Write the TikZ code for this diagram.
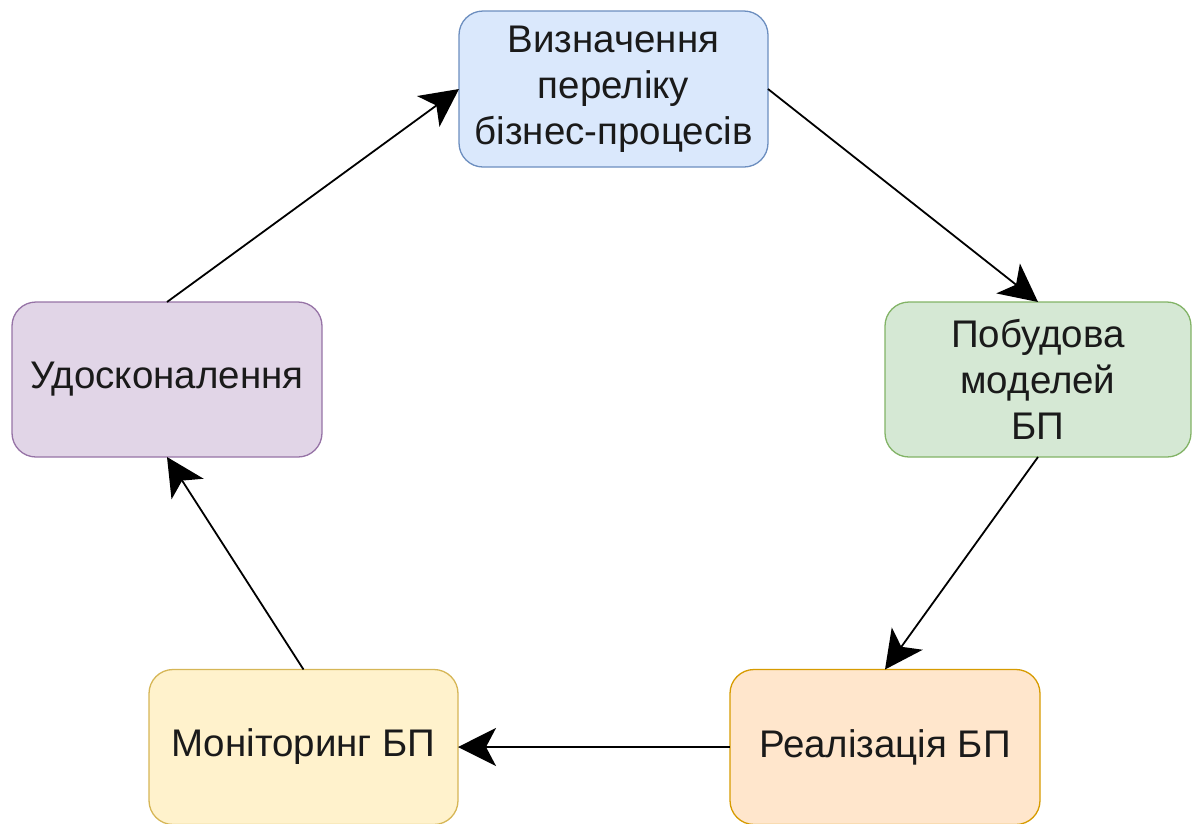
\documentclass[tikz,border=0pt]{standalone}
\usepackage{fontspec}
\setmainfont{Liberation Sans}
\usetikzlibrary{arrows.meta}
\definecolor{bluef}{HTML}{DAE8FC}\definecolor{blued}{HTML}{6C8EBF}
\definecolor{greenf}{HTML}{D5E8D4}\definecolor{greend}{HTML}{82B366}
\definecolor{orangef}{HTML}{FFE6CC}\definecolor{oranged}{HTML}{D79B00}
\definecolor{yellowf}{HTML}{FFF2CC}\definecolor{yellowd}{HTML}{D6B656}
\definecolor{purplef}{HTML}{E1D5E7}\definecolor{purpled}{HTML}{9673A6}
\definecolor{txt}{HTML}{1A1A1A}
\tikzset{
  stepbox/.style={draw, rounded corners=24pt, line width=1.3pt, inner sep=0pt, outer sep=0pt,
    minimum width=309pt, minimum height=155pt, align=center, text=txt,
    font=\fontsize{38.5}{46}\selectfont},
  flow/.style={line width=1.8pt, -{Stealth[length=38pt, width=38pt, inset=10pt]}}
}
\begin{document}
\begin{tikzpicture}[x=1pt, y=-1pt]
\useasboundingbox (0,0) rectangle (1192,823);
\node[stepbox, fill=bluef, draw=blued, minimum height=156pt] (a) at (613.5,89) {Визначення\\переліку\\бізнес-процесів};
\node[stepbox, fill=greenf, draw=greend, minimum width=306pt] (b) at (1038,379.5) {Побудова\\моделей\\БП};
\node[stepbox, fill=orangef, draw=oranged, minimum width=310pt] (c) at (885,747) {Реалізація БП};
\node[stepbox, fill=yellowf, draw=yellowd] (d) at (303.5,747) {Моніторинг БП};
\node[stepbox, fill=purplef, draw=purpled, minimum width=310pt] (e) at (167,379.5) {Удосконалення};
\draw[flow] (a.east) -- (b.north);
\draw[flow] (b.south) -- (c.north);
\draw[flow] (c.west) -- (d.east);
\draw[flow] (d.north) -- (e.south);
\draw[flow] (e.north) -- (a.west);
\end{tikzpicture}
\end{document}
